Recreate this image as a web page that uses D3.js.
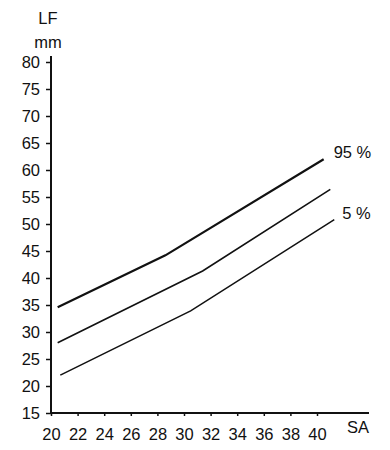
<!DOCTYPE html>
<html>
<head>
<meta charset="utf-8">
<script src="https://cdn.jsdelivr.net/npm/d3@7"></script>
<style>
  body { margin: 0; background: #fff; }
  text { font-family: "Liberation Sans", Arial, sans-serif; fill: #111; }
</style>
</head>
<body>
<svg id="chart" width="390" height="450"></svg>
<script>
// tick values
let x_ticks = d3.range(20, 41, 2)
let y_ticks = d3.range(15, 81, 5)

// percentile curves: [SA, LF]
let p95 = [[20.5, 34.6], [28.6, 44.2], [40.5, 62.0]]
let p50 = [[20.5, 28.0], [31.4, 41.3], [41.0, 56.4]]
let p5 = [[20.7, 22.0], [30.5, 33.9], [41.3, 50.8]]
let curve_labels = [["95 %", 40.5, 62.0, 10], ["5 %", 41.3, 50.8, 8]]

let svg = d3.select("#chart")

let scales = {
  x: d3.scaleLinear().domain([20, 40]).range([51, 317]),
  y: d3.scaleLinear().domain([15, 80]).range([413, 62])
}

// axes
let xAxis = svg.append("g")
  .attr("transform", "translate(0,413)")
  .call(d3.axisBottom(scales.x).tickValues(x_ticks).tickSize(3).tickPadding(12))
xAxis.select(".domain").remove()
xAxis.insert("line", ":first-child")
  .attr("x1", 51).attr("x2", 369).attr("y1", 0).attr("y2", 0)
  .attr("stroke", "#111").attr("stroke-width", 2)

let yAxis = svg.append("g")
  .attr("transform", "translate(51,0)")
  .call(d3.axisLeft(scales.y).tickValues(y_ticks).tickSize(5).tickPadding(6))
yAxis.select(".domain").remove()
yAxis.insert("line", ":first-child")
  .attr("x1", 0).attr("x2", 0).attr("y1", 56).attr("y2", 414)
  .attr("stroke", "#111").attr("stroke-width", 2)

svg.selectAll(".tick line").attr("stroke", "#111").attr("stroke-width", 1.5)
svg.selectAll(".tick text")
  .style("font-size", "16.5px")
  .style("font-family", "'Liberation Sans', Arial, sans-serif")
  .attr("fill", "#111")

// axis titles
svg.append("text").attr("x", 48).attr("y", 24).attr("text-anchor", "middle")
  .style("font-size", "16.5px").text("LF")
svg.append("text").attr("x", 48).attr("y", 48).attr("text-anchor", "middle")
  .style("font-size", "16.5px").text("mm")
svg.append("text").attr("x", 358).attr("y", 433).attr("text-anchor", "middle")
  .style("font-size", "16.5px").text("SA")

// curves
let line = d3.line()
  .x(d => scales.x(d[0]))
  .y(d => scales.y(d[1]))

svg.selectAll("path.curve")
  .data([[p95, 2.2], [p50, 1.6], [p5, 1.5]]).enter()
  .append("path")
  .attr("class", "curve")
  .attr("d", d => line(d[0]))
  .attr("fill", "none")
  .attr("stroke", "#111")
  .attr("stroke-width", d => d[1])

svg.selectAll("text.lab")
  .data(curve_labels).enter()
  .append("text")
  .attr("class", "lab")
  .attr("x", d => scales.x(d[1]) + d[3])
  .attr("y", d => scales.y(d[2]) - 1)
  .style("font-size", "16.5px")
  .text(d => d[0])
</script>
</body>
</html>
